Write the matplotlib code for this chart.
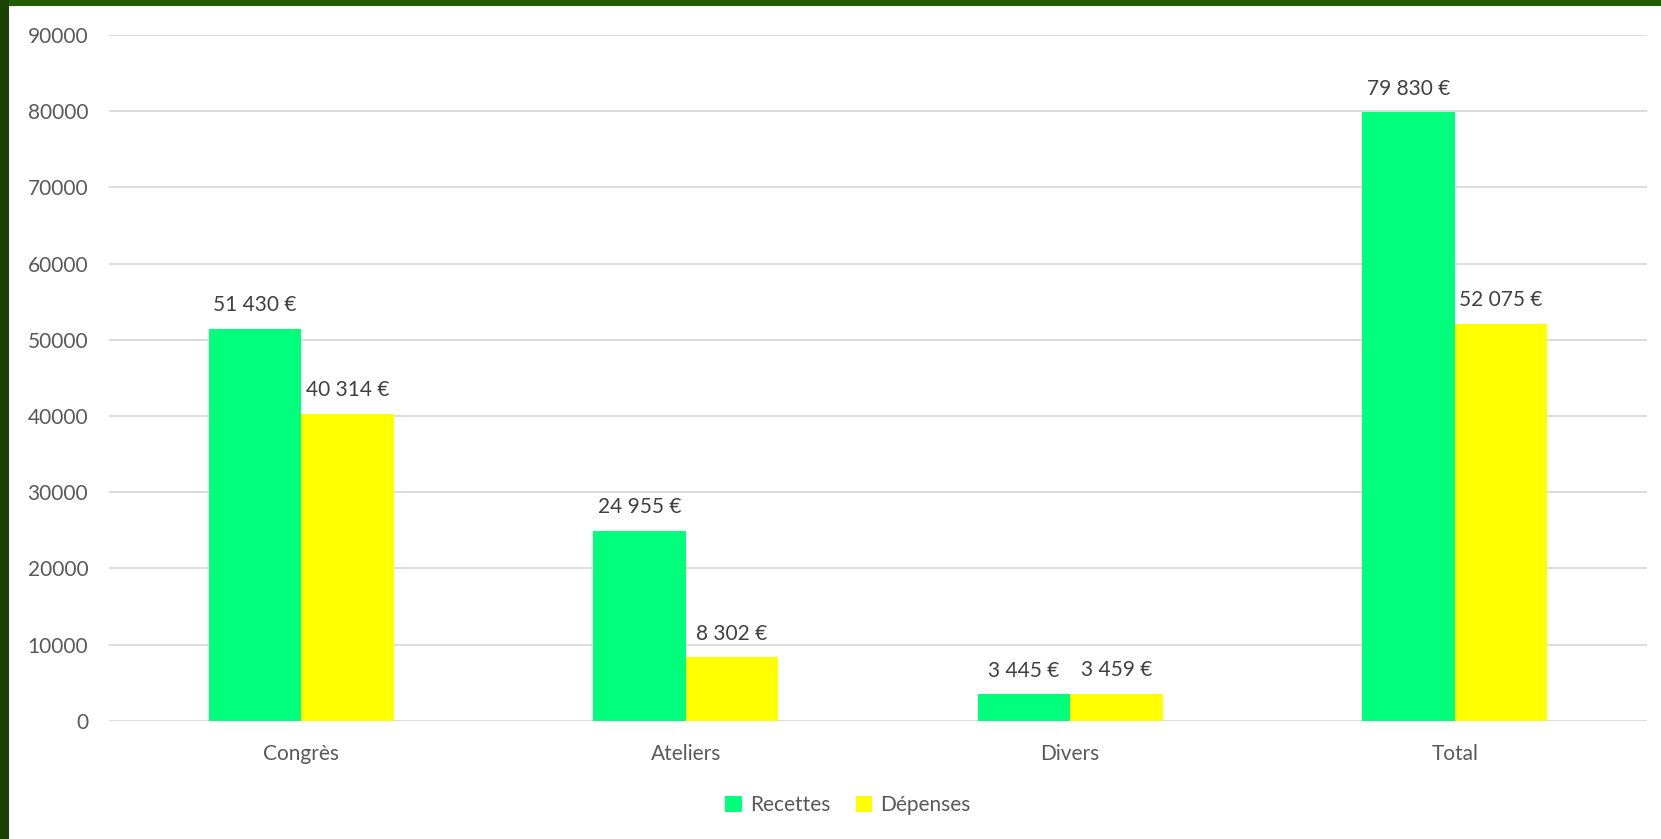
import matplotlib
matplotlib.use("Agg")
import matplotlib.pyplot as plt
from matplotlib.patches import Rectangle
import numpy as np

# Données du graphique
categories = ["Congrès", "Ateliers", "Divers", "Total"]
recettes = [51430, 24955, 3445, 79830]
depenses = [40314, 8302, 3459, 52075]
series_names = ["Recettes", "Dépenses"]
y_ticks = [0, 10000, 20000, 30000, 40000, 50000, 60000, 70000, 80000, 90000]

COL_REC = "#00FF7A"
COL_DEP = "#FFFF00"
TXT = "#595959"
LBL = "#404040"

plt.rcParams["font.family"] = ["Lato", "DejaVu Sans"]

fig = plt.figure(figsize=(16.61, 8.39), dpi=100)
fig.patch.set_facecolor("white")

# bordure verte (haut et gauche)
fig.patches.append(Rectangle((0, 1 - 6 / 839), 1, 6 / 839, transform=fig.transFigure,
                             facecolor="#215C00", edgecolor="none", zorder=0))
fig.patches.append(Rectangle((0, 0), 9 / 1661, 1, transform=fig.transFigure,
                             facecolor="#1A4100", edgecolor="none", zorder=0))

ax = fig.add_axes([109 / 1661, 1 - 720.7 / 839, (1647 - 109) / 1661, (720.7 - 35) / 839])

x = np.arange(len(categories))
w = 0.24
b1 = ax.bar(x - w / 2, recettes, w, color=COL_REC, label=series_names[0], zorder=3)
b2 = ax.bar(x + w / 2, depenses, w, color=COL_DEP, label=series_names[1], zorder=3)


def fmt(v):
    return f"{v:,}".replace(",", " ") + " €"


for bars, vals in ((b1, recettes), (b2, depenses)):
    ax.bar_label(bars, labels=[fmt(v) for v in vals], padding=10,
                 fontsize=15, color=LBL)

ax.set_xlim(-0.5, len(categories) - 0.5)
ax.set_ylim(0, 90000)
ax.set_yticks(y_ticks)
ax.set_yticklabels([str(t) for t in y_ticks])
ax.set_xticks(x)
ax.set_xticklabels(categories)
ax.tick_params(axis="both", length=0, labelsize=15, labelcolor=TXT)
ax.tick_params(axis="y", pad=15)
ax.tick_params(axis="x", pad=17)
ax.grid(axis="y", color="#D9D9D9", linewidth=1.3, zorder=0)
for s in ax.spines.values():
    s.set_visible(False)

fig.legend(handles=[b1, b2], labels=series_names, loc="center",
           bbox_to_anchor=(848 / 1661, 1 - 805 / 839), ncol=2, frameon=False,
           fontsize=15, labelcolor=TXT, handlelength=0.8, handleheight=0.8,
           handletextpad=0.4, columnspacing=1.2)

fig.savefig("out.png", dpi=100, facecolor=fig.get_facecolor())
